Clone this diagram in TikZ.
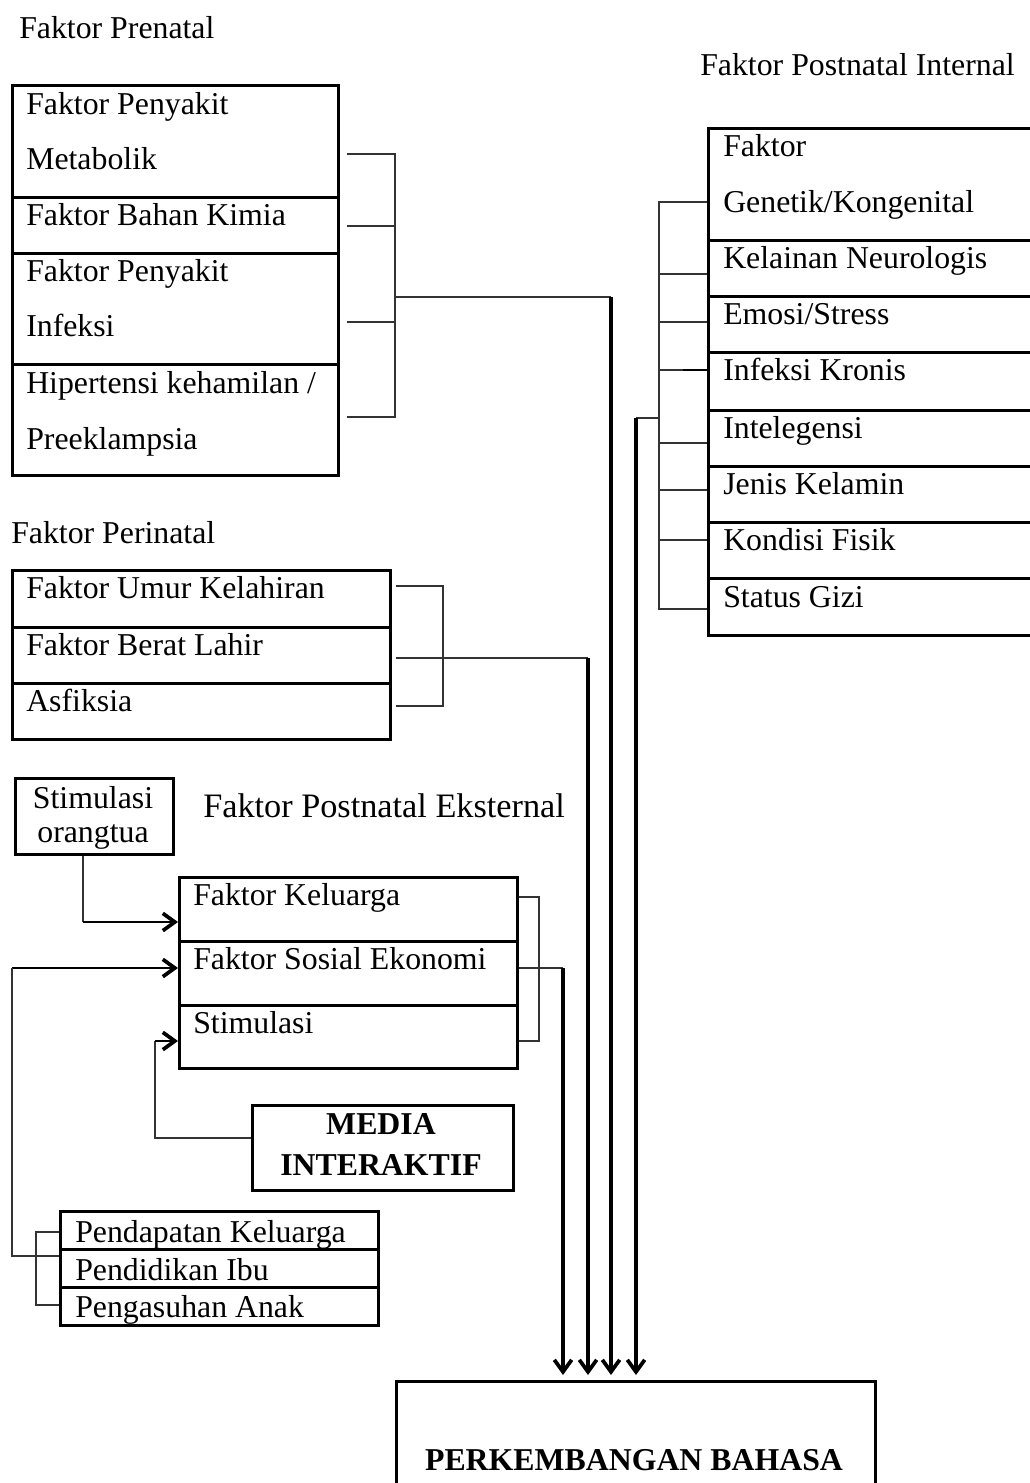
\documentclass[tikz,border=0pt]{standalone}
\usepackage{fontspec}
\setmainfont{Liberation Serif}
\usetikzlibrary{arrows.meta,calc}
\begin{document}
\begin{tikzpicture}[x=0.75pt,y=-0.75pt,
  box/.style={draw, line width=1.9pt, inner sep=0pt, anchor=north west},
  txt/.style={anchor=base west, inner sep=0pt, font=\fontsize{23.85}{28}\selectfont},
  ctxt/.style={anchor=base, inner sep=0pt, font=\fontsize{23.85}{28}\selectfont},
  btxt/.style={anchor=base, inner sep=0pt, font=\fontsize{23.85}{28}\selectfont\bfseries},
  br/.style={line width=1.1pt, draw=black!80},
  bigline/.style={line width=2.4pt},
  midline/.style={line width=2.2pt},
  arrowtip/.style={-{Straight Barb[length=9pt,width=13pt,line width=2.8pt]}},
  gap/.style={shorten >=3.75pt}]
\useasboundingbox (0,0) rectangle (1030,1483);
\clip (0,0) rectangle (1030,1483);

% ---------- titles ----------
\node[txt] (tPre) at (19,39) {Faktor Prenatal};
\node[txt] (tPeri) at (11,543) {Faktor Perinatal};
\node[txt] (tInt) at (700,76) {Faktor Postnatal Internal};
\node[anchor=base west, inner sep=0pt, font=\fontsize{25.7}{30}\selectfont] (tEks) at (203,817) {Faktor Postnatal Eksternal};

% ---------- prenatal ----------
\node[box, minimum width=0.75*326pt, minimum height=0.75*112pt] (p1) at (11,84) {};
\node[box, minimum width=0.75*326pt, minimum height=0.75*56pt] (p2) at (11,196) {};
\node[box, minimum width=0.75*326pt, minimum height=0.75*111pt] (p3) at (11,252) {};
\node[box, minimum width=0.75*326pt, minimum height=0.75*111pt] (p4) at (11,363) {};
\node[txt] (p1a) at (26,115) {Faktor Penyakit};
\node[txt] (p1b) at (26,170) {Metabolik};
\node[txt] (p2a) at (26,226) {Faktor Bahan Kimia};
\node[txt] (p3a) at (26,282) {Faktor Penyakit};
\node[txt] (p3b) at (26,337) {Infeksi};
\node[txt] (p4a) at (26,393) {Hipertensi kehamilan /};
\node[txt] (p4b) at (26,449) {Preeklampsia};

% ---------- perinatal ----------
\node[box, minimum width=0.75*378pt, minimum height=0.75*57pt] (n1) at (11,569) {};
\node[box, minimum width=0.75*378pt, minimum height=0.75*56pt] (n2) at (11,626) {};
\node[box, minimum width=0.75*378pt, minimum height=0.75*56pt] (n3) at (11,682) {};
\node[txt] (n1a) at (26,598) {Faktor Umur Kelahiran};
\node[txt] (n2a) at (26,655) {Faktor Berat Lahir};
\node[txt] (n3a) at (26,711) {Asfiksia};

% ---------- internal ----------
\node[box, minimum width=0.75*340pt, minimum height=0.75*112pt] (i1) at (707,127) {};
\node[box, minimum width=0.75*340pt, minimum height=0.75*56pt] (i2) at (707,239) {};
\node[box, minimum width=0.75*340pt, minimum height=0.75*56pt] (i3) at (707,295) {};
\node[box, minimum width=0.75*340pt, minimum height=0.75*58pt] (i4) at (707,351) {};
\node[box, minimum width=0.75*340pt, minimum height=0.75*56pt] (i5) at (707,409) {};
\node[box, minimum width=0.75*340pt, minimum height=0.75*56pt] (i6) at (707,465) {};
\node[box, minimum width=0.75*340pt, minimum height=0.75*56pt] (i7) at (707,521) {};
\node[box, minimum width=0.75*340pt, minimum height=0.75*57pt] (i8) at (707,577) {};
\node[txt] (i1a) at (723,157) {Faktor};
\node[txt] (i1b) at (723,213) {Genetik/Kongenital};
\node[txt] (i2a) at (723,269) {Kelainan Neurologis};
\node[txt] (i3a) at (723,325) {Emosi/Stress};
\node[txt] (i4a) at (723,381) {Infeksi Kronis};
\node[txt] (i5a) at (723,438) {Intelegensi};
\node[txt] (i6a) at (723,494) {Jenis Kelamin};
\node[txt] (i7a) at (723,550) {Kondisi Fisik};
\node[txt] (i8a) at (723,607) {Status Gizi};

% ---------- external ----------
\node[box, minimum width=0.75*158pt, minimum height=0.75*76pt] (so) at (14,777) {};
\node[ctxt] (soa) at (93,808) {Stimulasi};
\node[ctxt] (sob) at (93,842) {orangtua};
\node[box, minimum width=0.75*338pt, minimum height=0.75*64pt] (e1) at (178,876) {};
\node[box, minimum width=0.75*338pt, minimum height=0.75*64pt] (e2) at (178,940) {};
\node[box, minimum width=0.75*338pt, minimum height=0.75*63pt] (e3) at (178,1004) {};
\node[txt] (e1a) at (193,905) {Faktor Keluarga};
\node[txt] (e2a) at (193,969) {Faktor Sosial Ekonomi};
\node[txt] (e3a) at (193,1033) {Stimulasi};
\node[box, minimum width=0.75*261pt, minimum height=0.75*85pt] (media) at (251,1104) {};
\node[btxt] (mediaa) at (381,1134) {MEDIA};
\node[btxt] (mediab) at (381,1175) {INTERAKTIF};
\node[box, minimum width=0.75*318pt, minimum height=0.75*38pt] (g1) at (59,1210) {};
\node[box, minimum width=0.75*318pt, minimum height=0.75*38pt] (g2) at (59,1248) {};
\node[box, minimum width=0.75*318pt, minimum height=0.75*38pt] (g3) at (59,1286) {};
\node[txt] (g1a) at (75,1242) {Pendapatan Keluarga};
\node[txt] (g2a) at (75,1280) {Pendidikan Ibu};
\node[txt] (g3a) at (75,1317) {Pengasuhan Anak};

% ---------- result ----------
\node[box, minimum width=0.75*479pt, minimum height=0.75*200pt] (hasil) at (395,1380) {};
\node[btxt] (hasila) at (634,1470) {PERKEMBANGAN BAHASA};

% ---------- prenatal bracket ----------
\coordinate (prS1) at (347,154);
\coordinate (prS2) at (347,226);
\coordinate (prS3) at (347,322);
\coordinate (prS4) at (347,417);
\coordinate (prJ) at (395,297);
\coordinate (prV) at (611,297);
\draw[br] (prS1) -- (prS1 -| prJ) -- (prS4 -| prJ) -- (prS4);
\draw[br] (prS2) -- (prS2 -| prJ);
\draw[br] (prS3) -- (prS3 -| prJ);
\draw[br] (prJ) -- (prV);
\draw[bigline,arrowtip,gap] (prV) -- (prV |- hasil.north);

% ---------- perinatal bracket ----------
\coordinate (pbS1) at (396,586);
\coordinate (pbS2) at (396,658);
\coordinate (pbS3) at (396,706);
\coordinate (pbX) at (443,658);
\coordinate (pbV) at (588,658);
\draw[br] (pbS1) -- (pbS1 -| pbX) -- (pbS3 -| pbX) -- (pbS3);
\draw[br] (pbS2) -- (pbV);
\draw[bigline,arrowtip,gap] (pbV) -- (pbV |- hasil.north);

% ---------- internal bracket ----------
\coordinate (ib1) at (659,202);
\coordinate (ib2) at (659,274);
\coordinate (ib3) at (659,322);
\coordinate (ib4) at (659,370);
\coordinate (ib5) at (659,443);
\coordinate (ib6) at (659,490);
\coordinate (ib7) at (659,540);
\coordinate (ib8) at (659,609);
\coordinate (iJ) at (659,418);
\coordinate (iV) at (636,418);
\draw[br] (i1.west |- ib1) -- (ib1) -- (ib8) -- (i1.west |- ib8);
\foreach \c in {ib2,ib3,ib4,ib5,ib6,ib7} \draw[br] (\c) -- (i1.west |- \c);
\draw[midline] ($(i1.west |- ib4)+(-24,0)$) -- (i1.west |- ib4);
\draw[br] (iJ) -- (iV);
\draw[bigline,arrowtip,gap] (iV) -- (iV |- hasil.north);

% ---------- external bracket ----------
\coordinate (eb1) at (539,897);
\coordinate (eb3) at (539,1041);
\coordinate (ebM) at (563,968);
\draw[br] (e1.east |- eb1) -- (eb1) -- (eb3) -- (e1.east |- eb3);
\draw[br] (e2.east |- ebM) -- (ebM);
\draw[bigline,arrowtip,gap] (ebM) -- (ebM |- hasil.north);

% ---------- left-side arrows ----------
\coordinate (soC) at (83,922);
\draw[br] (so.south -| soC) -- (soC);
\draw[midline,arrowtip] (soC) -- (soC -| e1.west);

\coordinate (sosL) at (12,968);
\coordinate (gJ) at (12,1256);
\draw[midline,arrowtip] (sosL) -- (sosL -| e2.west);
\draw[br] (sosL) -- (gJ) -- (gJ -| g1.west);
\coordinate (gB1) at (36,1232);
\coordinate (gB2) at (36,1305);
\draw[br] (gB1 -| g1.west) -- (gB1) -- (gB2) -- (gB2 -| g1.west);

\coordinate (mC) at (155,1138);
\coordinate (mT) at (155,1041);
\draw[br] (media.west |- mC) -- (mC) -- (mT);
\draw[midline,arrowtip] (mT) -- (mT -| e3.west);
\end{tikzpicture}
\end{document}
